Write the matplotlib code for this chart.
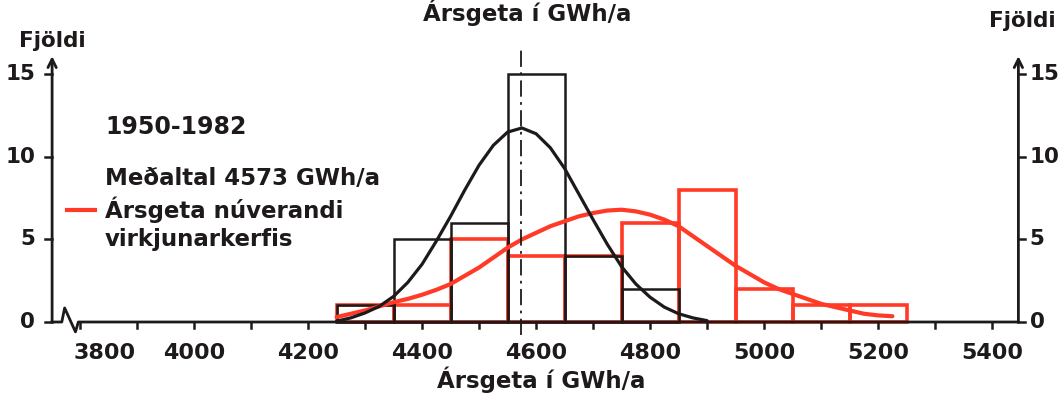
import numpy as np
import matplotlib.pyplot as plt

# histogram bins, 100 GWh/a wide
black_centers = [4300, 4400, 4500, 4600, 4700, 4800]
black_counts = [1, 5, 6, 15, 4, 2]
red_centers = [4300, 4400, 4500, 4600, 4700, 4800, 4900, 5000, 5100, 5200]
red_counts = [1, 1, 5, 4, 4, 6, 8, 2, 1, 1]

# fitted curves
black_curve_x = [4250, 4275, 4300, 4325, 4350, 4375, 4400, 4425, 4450, 4475, 4500,
                 4525, 4550, 4575, 4600, 4625, 4650, 4675, 4700, 4725, 4750, 4775,
                 4800, 4825, 4850, 4875, 4900]
black_curve_y = [0.05, 0.25, 0.55, 0.95, 1.55, 2.4, 3.5, 4.9, 6.4, 8.0, 9.5,
                 10.7, 11.5, 11.75, 11.4, 10.55, 9.3, 7.75, 6.2, 4.7, 3.35, 2.3,
                 1.5, 0.9, 0.5, 0.25, 0.08]
red_curve_x = [4250, 4275, 4300, 4325, 4350, 4375, 4400, 4425, 4450, 4475, 4500,
               4525, 4550, 4575, 4600, 4625, 4650, 4675, 4700, 4725, 4750, 4775,
               4800, 4825, 4850, 4875, 4900, 4925, 4950, 4975, 5000, 5025, 5050,
               5075, 5100, 5125, 5150, 5175, 5200, 5225]
red_curve_y = [0.3, 0.5, 0.7, 0.95, 1.2, 1.4, 1.65, 1.95, 2.3, 2.8, 3.3,
               3.9, 4.5, 5.0, 5.4, 5.8, 6.1, 6.4, 6.6, 6.75, 6.8, 6.7,
               6.5, 6.2, 5.8, 5.2, 4.6, 4.0, 3.4, 2.9, 2.4, 2.0, 1.7,
               1.4, 1.1, 0.9, 0.7, 0.5, 0.4, 0.35]
mean_value = 4573

x_ticks = list(range(3800, 5401, 100))
x_labels = [4000, 4200, 4400, 4600, 4800, 5000, 5200, 5400]
y_ticks = [0, 5, 10, 15]

RED = '#ff3a26'
INK = '#1e1a1a'
TXT = dict(family='DejaVu Sans', fontweight='bold', color=INK)

fig = plt.figure(figsize=(10.6, 3.94), dpi=100)
ax = fig.add_axes([0, 0, 1, 1])
ax.set_xlim(3659.6, 5519)
ax.set_ylim(-4.36, 19.5)
ax.axis('off')

left_x = 3751
right_x = 5446
tick_dx = 12
tick_dy = 0.38

# bars
ax.bar(red_centers, red_counts, width=100, fill=False, edgecolor=RED, linewidth=2.6, zorder=2)
ax.bar(black_centers, black_counts, width=100, fill=False, edgecolor=INK, linewidth=1.8, zorder=3)

# curves
ax.plot(red_curve_x, red_curve_y, color=RED, linewidth=3.0, solid_capstyle='round',
        solid_joinstyle='round', zorder=4)
ax.plot(black_curve_x, black_curve_y, color=INK, linewidth=2.3, solid_capstyle='round',
        solid_joinstyle='round', zorder=5)

# mean line
ax.plot([mean_value, mean_value], [-0.8, 16.6], color=INK, linewidth=1.3,
        dashes=[9, 3, 1.5, 3], zorder=6)

# x axis with break
ax.plot([left_x, 3768, 3773, 3792, 3797, right_x], [0, 0, 0.85, -0.6, 0, 0],
        color=INK, linewidth=2.0, zorder=6)
for t in x_ticks:
    ax.plot([t, t], [0, -tick_dy], color=INK, linewidth=1.8)
for t in x_labels:
    ax.text(t, -1.9, str(t), ha='center', va='center', fontsize=16, **TXT)
ax.text(3844, -1.9, '3800', ha='center', va='center', fontsize=16, **TXT)
ax.text(4609, -3.5, 'Ársgeta í GWh/a', ha='center', va='center', fontsize=16.5, **TXT)
ax.text(4584, 18.75, 'Ársgeta í GWh/a', ha='center', va='center', fontsize=16.5, **TXT)

# left and right count axes
for ax_x, side in [(left_x, -1), (right_x, 1)]:
    ax.annotate('', xy=(ax_x, 16.1), xytext=(ax_x, 0),
                arrowprops=dict(arrowstyle='->,head_length=0.6,head_width=0.3',
                                color=INK, lw=2.0, shrinkA=0, shrinkB=0))
    for t in y_ticks:
        ax.plot([ax_x, ax_x + side * tick_dx], [t, t], color=INK, linewidth=1.8)
        ax.text(ax_x + side * (30 if side < 0 else 20), t, str(t),
                ha='right' if side < 0 else 'left', va='center', fontsize=15.5, **TXT)
ax.text(3693, 17.0, 'Fjöldi', ha='left', va='center', fontsize=15.5, **TXT)
ax.text(5395, 18.2, 'Fjöldi', ha='left', va='center', fontsize=15.5, **TXT)

# annotations
ax.text(3844, 11.8, '1950-1982', ha='left', va='center', fontsize=17, **TXT)
ax.text(3844, 8.7, 'Meðaltal 4573 GWh/a', ha='left', va='center', fontsize=16.5, **TXT)
ax.plot([3777, 3826], [6.8, 6.8], color=RED, linewidth=3.0)
ax.text(3844, 6.8, 'Ársgeta núverandi', ha='left', va='center', fontsize=16.5, **TXT)
ax.text(3844, 5.0, 'virkjunarkerfis', ha='left', va='center', fontsize=16.5, **TXT)

fig.savefig('out.png', dpi=100)
